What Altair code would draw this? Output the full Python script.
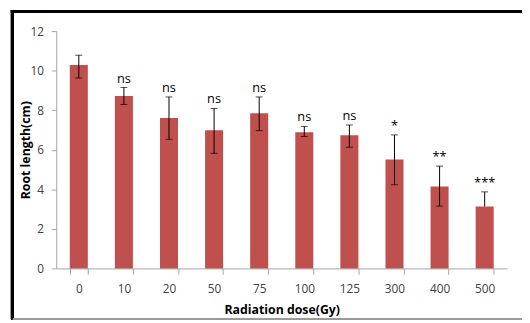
import altair as alt
import pandas as pd

doses = ["0", "10", "20", "50", "75", "100", "125", "300", "400", "500"]
means = [10.28, 8.72, 7.61, 6.98, 7.85, 6.88, 6.73, 5.51, 4.14, 3.13]
err_high = [10.78, 9.15, 8.67, 8.09, 8.67, 7.18, 7.25, 6.75, 5.17, 3.87]
err_low = [9.63, 8.29, 6.53, 5.82, 6.97, 6.67, 6.13, 4.23, 3.15, 3.13]
sig = ["", "ns", "ns", "ns", "ns", "ns", "ns", "*", "**", "***"]
y_ticks = [0, 2, 4, 6, 8, 10, 12]

df = pd.DataFrame({"dose": doses, "mean": means, "hi": err_high, "lo": err_low, "sig": sig})

FONT = "Open Sans"
W, H = 458, 241

xscale = alt.Scale(domain=doses, paddingInner=0.6, paddingOuter=0.3)
yscale = alt.Scale(domain=[0, 12], nice=False)

x_enc = alt.X(
    "dose:N", scale=xscale, sort=doses,
    axis=alt.Axis(
        title="Radiation dose(Gy)", labelAngle=0, tickBand="extent",
        domainColor="#a6a6a6", tickColor="#a6a6a6", tickSize=6,
        labelFont=FONT, labelFontSize=12, labelColor="#404040", labelPadding=9,
        titleFont=FONT, titleFontSize=12.5, titleFontWeight="bold", titleColor="#000000",
        titleX=W / 2, titleY=42, titleBaseline="middle", titleAlign="center",
    ),
)
y_enc = alt.Y(
    "mean:Q", scale=yscale,
    axis=alt.Axis(
        title="Root length(cm)", values=y_ticks, grid=False,
        domainColor="#a6a6a6", tickColor="#a6a6a6", tickSize=5,
        labelFont=FONT, labelFontSize=12, labelColor="#404040", labelPadding=8,
        titleFont=FONT, titleFontSize=12.5, titleFontWeight="bold", titleColor="#000000",
        titleAngle=-90, titleX=-31, titleY=H / 2, titleBaseline="middle", titleAlign="center",
    ),
)

base = alt.Chart(df)

bars = base.mark_bar(color="#c0504d").encode(x=x_enc, y=y_enc)

err = base.mark_rule(color="#000000", strokeWidth=1).encode(
    x=alt.X("dose:N", scale=xscale, sort=doses),
    y=alt.Y("lo:Q", scale=yscale),
    y2="hi:Q",
)
caps = base.mark_tick(color="#000000", thickness=1, size=7).encode(
    x=alt.X("dose:N", scale=xscale, sort=doses),
    y=alt.Y("hi:Q", scale=yscale),
)
low_caps = base.transform_filter("datum.lo < datum.mean").mark_tick(
    color="#000000", thickness=1, size=7
).encode(
    x=alt.X("dose:N", scale=xscale, sort=doses),
    y=alt.Y("lo:Q", scale=yscale),
)
labels = base.mark_text(
    font=FONT, fontSize=13, color="#000000", baseline="alphabetic", dy=-5
).encode(
    x=alt.X("dose:N", scale=xscale, sort=doses),
    y=alt.Y("hi:Q", scale=yscale),
    text="sig:N",
)

frame_left = alt.Chart(df).mark_rule(color="#000000", strokeWidth=3).encode(
    x=alt.value(-44.5), y=alt.value(-21.5), y2=alt.value(293)
)
frame_top = alt.Chart(df).mark_rule(color="#000000", strokeWidth=3).encode(
    x=alt.value(-46), x2=alt.value(480), y=alt.value(-20)
)
frame_bottom = alt.Chart(df).mark_rule(color="#9a9a9a", strokeWidth=1).encode(
    x=alt.value(-44), x2=alt.value(480), y=alt.value(292.5)
)

chart = alt.layer(
    bars, err, caps, low_caps, labels, frame_left, frame_top, frame_bottom
).properties(
    width=W, height=H,
    padding={"left": 49, "top": 21, "right": 15, "bottom": 53},
    autosize=alt.AutoSizeParams(type="none"),
    background="#ffffff",
).configure_view(stroke=None)

chart.save("out.html", embed_options={"renderer": "svg", "actions": False})
